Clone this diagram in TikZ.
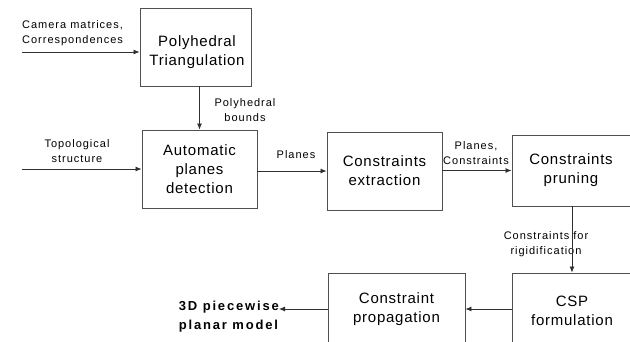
\documentclass[tikz,border=0pt]{standalone}
\usepackage{fontspec}
\setmainfont{Liberation Sans}
\newfontfamily\lblfont[LetterSpace=9]{Liberation Sans}
\newfontfamily\boxfont[LetterSpace=5]{Liberation Sans}
\newfontfamily\outfont[LetterSpace=14]{Liberation Sans}
\usetikzlibrary{arrows.meta}
\definecolor{boxline}{HTML}{505050}
\definecolor{arrline}{HTML}{303030}
\tikzset{
  procbox/.style={draw=boxline, line width=0.9pt, fill=white, align=center,
    inner sep=0pt, font=\boxfont\fontsize{15}{19}\selectfont},
  boxtext/.style={align=center, inner sep=0pt, font=\boxfont\fontsize{15}{19}\selectfont},
  lbl/.style={align=center, inner sep=0pt, font=\lblfont\fontsize{11}{15}\selectfont},
  conn/.style={draw=arrline, line width=0.8pt, -{Latex[length=6pt,width=5pt]}}
}
\begin{document}
\begin{tikzpicture}[x=1pt,y=1pt]
\useasboundingbox (0,0) rectangle (630,-341);
\fill[white] (0,0) rectangle (630,-341);
\clip (0,0) rectangle (630,-341);
% boxes
\node[procbox, minimum width=111pt, minimum height=78pt] (tri) at (195.5,-47) {};
\node[boxtext] (trit) at (197,-52) {Polyhedral\\Triangulation};
\node[procbox, minimum width=115pt, minimum height=78pt] (apd) at (199.5,-169) {Automatic\\planes\\detection};
\node[procbox, minimum width=115pt, minimum height=78pt] (ext) at (384.5,-171) {Constraints\\extraction};
\node[procbox, minimum width=118pt, minimum height=71pt] (pru) at (571,-170.5) {Constraints\\pruning};
\node[procbox, minimum width=120pt, minimum height=76pt] (csp) at (572,-311) {CSP\\formulation};
\node[procbox, minimum width=137pt, minimum height=72pt] (prop) at (396.5,-309) {Constraint\\propagation};
% input points
\coordinate (camin) at (22,-52);
\coordinate (topin) at (22,-169);
% labels
\node[lbl, align=left, anchor=west] (camlbl) at (22,-33) {Camera matrices,\\Correspondences};
\node[lbl] (toplbl) at (77,-151) {Topological\\structure};
\node[lbl] (pblbl) at (245,-110) {Polyhedral\\bounds};
\node[lbl] (pllbl) at (296,-155) {Planes};
\node[lbl] (pclbl) at (476,-153.5) {Planes,\\Constraints};
\node[lbl] (crlbl) at (546,-244.5) {Constraints for\\rigidification};
\node[align=left, inner sep=0pt, anchor=north east, font=\outfont\bfseries\fontsize{13}{19}\selectfont] (model) at (279,-301) {3D piecewise\\planar model};
% connectors
\draw[conn] (camin) -- (camin -| tri.west);
\draw[conn] (topin) -- (topin -| apd.west);
\draw[conn] (apd.north |- tri.south) -- (apd.north);
\draw[conn] (apd.east |- ext.west) -- (ext.west);
\draw[conn] (ext.east |- pru.west) -- (pru.west);
\draw[conn] (pru.south -| csp.north) -- (csp.north);
\draw[conn] (csp.west |- prop.east) -- (prop.east);
\draw[conn] (prop.west) -- (prop.west -| model.east);
\end{tikzpicture}
\end{document}
